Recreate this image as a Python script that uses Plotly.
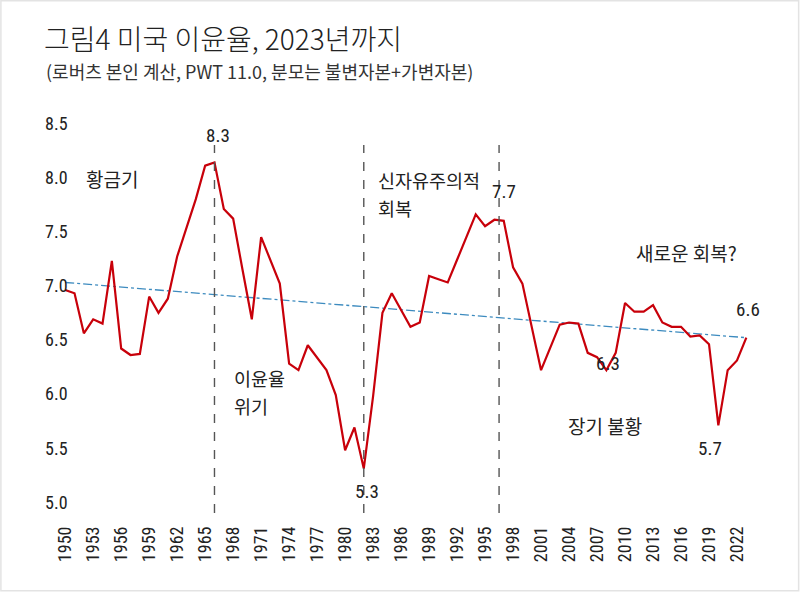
import plotly.graph_objects as go

years = list(range(1950, 2024))
profit_rate = [
    6.96, 6.93, 6.56, 6.69, 6.65, 7.23, 6.42, 6.36, 6.37, 6.90,   # 1950-1959
    6.75, 6.88, 7.27, 7.53, 7.80, 8.11, 8.14, 7.71, 7.62, 7.15,   # 1960-1969
    6.69, 7.45, 7.23, 7.02, 6.28, 6.22, 6.45, 6.34, 6.22, 5.99,   # 1970-1979
    5.48, 5.69, 5.31, 5.98, 6.75, 6.93, 6.78, 6.62, 6.66, 7.09,   # 1980-1989
    7.06, 7.03, 7.24, 7.45, 7.66, 7.55, 7.61, 7.60, 7.17, 7.02,   # 1990-1999
    6.62, 6.22, 6.43, 6.64, 6.66, 6.65, 6.38, 6.34, 6.22, 6.38,   # 2000-2009
    6.84, 6.76, 6.76, 6.82, 6.66, 6.62, 6.62, 6.53, 6.54, 6.46,   # 2010-2019
    5.71, 6.22, 6.31, 6.52,                                       # 2020-2023
]
trend_years = [1950, 2023]
trend_values = [7.03, 6.52]
period_breaks = [1966, 1982, 1996.5]
x_ticks = list(range(1950, 2023, 3))
y_ticks = [5.0, 5.5, 6.0, 6.5, 7.0, 7.5, 8.0, 8.5]

num_font = "Liberation Sans Narrow, Roboto Condensed, Roboto, sans-serif"
kor_font = "Noto Sans CJK KR, Noto Sans, sans-serif"
ink = "#222222"

fig = go.Figure()

fig.add_trace(go.Scatter(
    x=trend_years, y=trend_values, mode="lines",
    line=dict(color="#3d8bbf", width=1.3, dash="dashdot"),
    hoverinfo="skip", showlegend=False))

fig.add_trace(go.Scatter(
    x=years, y=profit_rate, mode="lines",
    line=dict(color="#c8000a", width=2.2),
    showlegend=False))

for yr in period_breaks:
    fig.add_shape(type="line", x0=yr, x1=yr, y0=4.9, y1=8.3,
                  xref="x", yref="y",
                  line=dict(color="#555555", width=1.4, dash="dash"))

# frame round the whole image
fig.add_shape(type="rect", xref="paper", yref="paper",
              x0=-0.055, x1=1.067, y0=-0.197, y1=1.297,
              line=dict(color="#e3e3e3", width=1.5), layer="below")

# y tick labels, left aligned like the original
for v in y_ticks:
    fig.add_annotation(xref="paper", yref="y", x=0.004, y=v,
                       text=f"{v:.1f}", showarrow=False, xanchor="left",
                       font=dict(family=num_font, size=18, color=ink))

num_labels = [
    ("8.3", 1966.4, 8.39),
    ("7.7", 1997.05, 7.87),
    ("5.3", 1982.3, 5.10),
    ("6.6", 2023.2, 6.78),
    ("6.3", 2008.2, 6.28),
    ("5.7", 2019.1, 5.50),
]
for txt, xx, yy in num_labels:
    fig.add_annotation(x=xx, y=yy, text=txt, showarrow=False,
                       font=dict(family=num_font, size=19, color=ink))

one_line = [
    ("황금기", 1955.0, 7.99),
    ("새로운 회복?", 2016.6, 7.31),
    ("장기 불황", 2007.9, 5.71),
]
for txt, xx, yy in one_line:
    fig.add_annotation(x=xx, y=yy, text=txt, showarrow=False,
                       font=dict(family=kor_font, size=19, color=ink))

# two-line labels: first line sits on the mid point, second hangs below it
two_line = [
    ("이윤율", "위기", 1968.0, 6.02),
    ("신자유주의적", "회복", 1983.4, 7.85),
]
for top, bottom, xx, mid in two_line:
    fig.add_annotation(x=xx, y=mid, text=top, showarrow=False,
                       xanchor="left", yanchor="bottom", borderpad=0,
                       font=dict(family=kor_font, size=18.5, color=ink))
    fig.add_annotation(x=xx, y=mid, text=bottom, showarrow=False,
                       xanchor="left", yanchor="top", borderpad=0,
                       font=dict(family=kor_font, size=18.5, color=ink))

fig.add_annotation(xref="paper", yref="paper", x=0.0056, y=1.119,
                   xanchor="left", yanchor="middle", showarrow=False,
                   text="(로버츠 본인 계산, PWT 11.0, 분모는 불변자본+가변자본)",
                   font=dict(family=kor_font, size=18, color="#333333"))

fig.update_layout(
    width=800, height=592,
    margin=dict(l=40, r=49, t=118, b=79),
    paper_bgcolor="white", plot_bgcolor="white",
    title=dict(text="그림4 미국 이윤율, 2023년까지",
               x=0.055, xanchor="left", y=0.932, yanchor="middle",
               font=dict(family=kor_font, size=28, color=ink, weight=300)),
    xaxis=dict(range=[1947.3, 2023.5], tickvals=x_ticks, tickangle=-90,
               ticklabelstandoff=9,
               showgrid=False, zeroline=False, showline=False, ticks="",
               tickfont=dict(family=num_font, size=18, color=ink)),
    yaxis=dict(range=[4.9, 8.55], showticklabels=False,
               showgrid=False, zeroline=False, showline=False, ticks=""),
)

fig.write_html("out.html", config={"displayModeBar": False},
               post_script="document.body.style.margin='0';")
